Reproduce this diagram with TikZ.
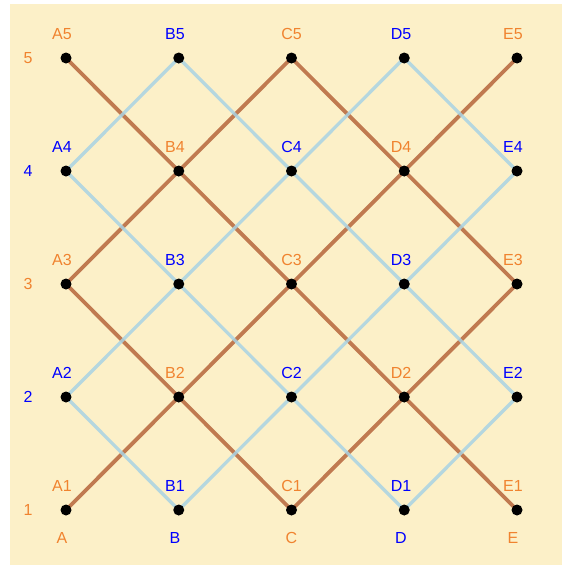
\documentclass[tikz,border=0pt]{standalone}
\usepackage{fontspec}
\setmainfont{Liberation Sans}
\definecolor{bgc}{HTML}{FCF0C8}
\definecolor{brownline}{HTML}{C07A50}
\definecolor{blueline}{HTML}{A9D3E4}
\definecolor{orangetxt}{HTML}{F0832F}
\definecolor{bluetxt}{HTML}{0000FF}
\begin{document}
\begin{tikzpicture}[x=1pt,y=-1pt,
  dot/.style={circle,fill=black,inner sep=0pt,minimum size=11pt},
  lab/.style={font=\fontsize{16}{16}\selectfont,inner sep=0pt},
  brownl/.style={draw=brownline,line width=3.8pt,line join=round},
  bluel/.style={draw=blueline,line width=3.3pt,line join=round,opacity=0.85}]
\useasboundingbox (0,0) rectangle (563,565);
\fill[bgc] (10,4) rectangle (562,565);
% grid points and labels
\foreach \c/\lx [count=\i] in {A/62,B/175,C/291.5,D/401,E/513} {
  \foreach \r in {1,...,5} {
    \ifodd\numexpr\i+\r\relax \def\tc{bluetxt}\else\def\tc{orangetxt}\fi
    \coordinate (\c\r) at ({66+(\i-1)*112.75},{510-(\r-1)*113});
    \node[lab,text=\tc] (l\c\r) at (\lx,{33.8-(\r-5)*113}) {\c\r};
  }
  \ifodd\i \def\tc{orangetxt}\else\def\tc{bluetxt}\fi
  \node[lab,text=\tc] (col\c) at (\lx,538) {\c};
}
% row labels
\foreach \r in {1,...,5} {
  \ifodd\r \def\tc{orangetxt}\else\def\tc{bluetxt}\fi
  \node[lab,text=\tc] (row\r) at (28,{510-(\r-1)*113}) {\r};
}
% brown lines
\draw[brownl] (A5) -- (B4) -- (C3) -- (D2) -- (E1);
\draw[brownl] (A1) -- (B2) -- (C3) -- (D4) -- (E5);
\draw[brownl] (A3) -- (B4) -- (C5) -- (D4) -- (E3) -- (D2) -- (C1) -- (B2) -- cycle;
% blue lines
\draw[bluel] (A4) -- (B3) -- (C2) -- (D1) -- (E2) -- (D3) -- (C4) -- (B5) -- cycle;
\draw[bluel] (A2) -- (B3) -- (C4) -- (D5) -- (E4) -- (D3) -- (C2) -- (B1) -- cycle;
% dots
\foreach \c in {A,B,C,D,E} {
  \foreach \r in {1,...,5} {
    \node[dot] (d\c\r) at (\c\r) {};
  }
}
\end{tikzpicture}
\end{document}
